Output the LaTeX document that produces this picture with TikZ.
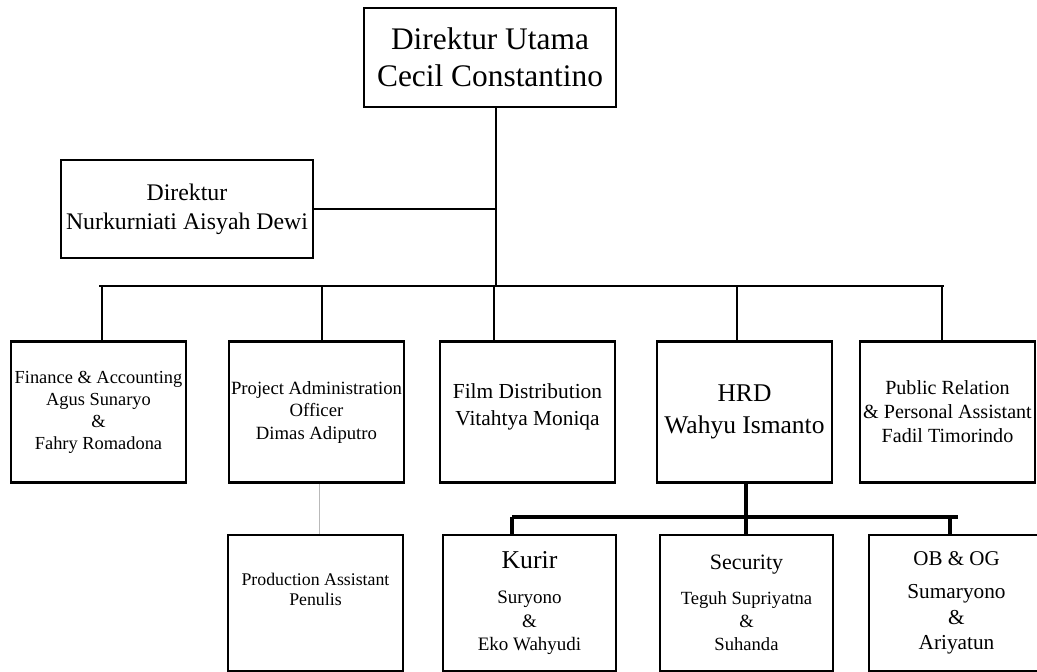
\documentclass[tikz,border=0pt]{standalone}
\usepackage{fontspec}
\setmainfont{Liberation Serif}

\newcommand{\ukuran}[2]{\fontsize{#1}{#2}\selectfont}

\begin{document}
\begin{tikzpicture}[x=1pt,y=-1pt]

\tikzstyle{kotak}=[draw=black,line width=2.5pt,inner sep=0pt,align=center,minimum width=175pt,minimum height=141pt]
\tikzstyle{garis}=[draw=black,line width=2pt]
\tikzstyle{garistebal}=[draw=black,line width=3.4pt]

\useasboundingbox (0,0) rectangle (1037,672);
\clip (0,0) rectangle (1037,672);
\fill [white] (0,0) rectangle (1037,672);

% pimpinan
\node [kotak,minimum width=252pt,minimum height=99pt,font=\ukuran{31.4}{37}] (dirut) at (490,57.5) {Direktur Utama\\Cecil Constantino};
\node [kotak,minimum width=252pt,minimum height=98pt,font=\ukuran{23.8}{29}] (dir) at (187,209) {Direktur\\Nurkurniati Aisyah Dewi};

% bagian
\node [kotak,font=\ukuran{18.4}{22}] (fin) at (98.5,412) {Finance \& Accounting\\Agus Sunaryo\\\&\\Fahry Romadona};
\node [kotak,font=\ukuran{18.7}{22.5}] (proj) at (316.5,412) {Project Administration\\Officer\\Dimas Adiputro};
\node [kotak,font=\ukuran{21.4}{27}] (film) at (527.5,412) {Film Distribution\\Vitahtya Moniqa\\[-12pt]~};
\node [kotak,font=\ukuran{25.5}{32}] (hrd) at (744.5,412) {HRD\\Wahyu Ismanto};
\node [kotak,font=\ukuran{20.1}{24}] (pr) at (947.5,412) {Public Relation\\\& Personal Assistant\\Fadil Timorindo};

% staf
\node [kotak,minimum height=136pt,font=\ukuran{17.8}{20}] (prod) at (315.5,603) {Production Assistant\\Penulis\\[8pt]~};
\node [kotak,minimum width=173pt,minimum height=136pt,font=\ukuran{19}{23.5}] (kurir) at (529.5,603) {{\ukuran{25.7}{30}Kurir}\\[12pt]Suryono\\\&\\Eko Wahyudi};
\node [kotak,minimum width=173pt,minimum height=136pt,font=\ukuran{18.6}{23}] (sec) at (746.5,603) {{\ukuran{22}{27}Security}\\[12pt]Teguh Supriyatna\\\&\\Suhanda};
\node [kotak,minimum height=136pt,font=\ukuran{21.3}{25.5}] (ob) at (956.5,603) {{\ukuran{21}{25}OB \& OG}\\[8pt]Sumaryono\\\&\\Ariyatun};

% garis
\coordinate (bus) at (496,286);
\coordinate (busL) at (99,286);
\coordinate (busR) at (944,286);
\coordinate (sub) at (746,517);
\coordinate (subL) at (512,517);
\coordinate (subR) at (958,517);

\draw [garis] (dirut.south -| bus) -- (bus);
\draw [garis] (dir.east) -- (dir.east -| bus);
\draw [garis] (busL) -- (busR);
\foreach \n/\x in {fin/102,proj/322,film/494,hrd/737,pr/942}
  \draw [garis] (\x,0 |- bus) -- (\x,0 |- \n.north);

\draw [garistebal] (sub |- hrd.south) -- (sub |- sec.north);
\draw [garistebal] (subL) -- (subR);
\foreach \n/\x in {kurir/512,ob/950}
  \draw [garistebal] (\x,0 |- sub) -- (\x,0 |- \n.north);

\draw [gray!55,line width=1pt] (319,0 |- proj.south) -- (319,0 |- prod.north);

\end{tikzpicture}
\end{document}
